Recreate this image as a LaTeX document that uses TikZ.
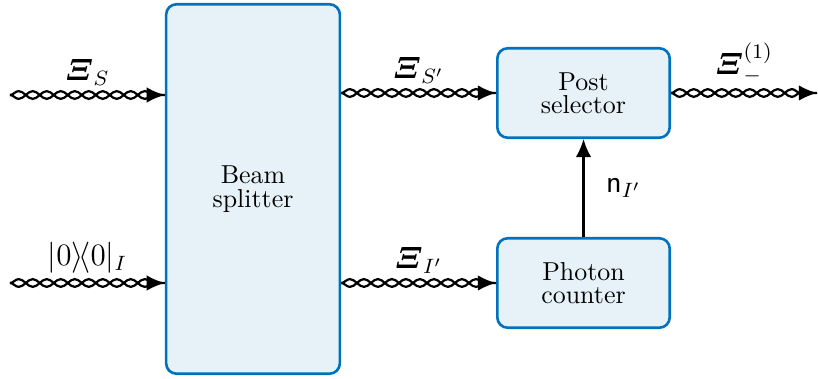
\documentclass[tikz,border=0pt]{standalone}
\usepackage{amsmath,amssymb}
\usetikzlibrary{arrows.meta,decorations.pathmorphing}
\definecolor{boxblue}{RGB}{0,114,189}
\definecolor{boxfill}{RGB}{230,241,248}
\newcommand{\Bxi}{\boldsymbol{\varXi}}
\tikzset{
  device/.style={draw=boxblue, fill=boxfill, line width=1pt, rounded corners=4pt,
    align=center, font={\fontsize{10}{9}\selectfont}},
  photon/.style={line width=0.85pt, decorate,
    decoration={snake, amplitude=1.5pt, segment length=10.8pt, post length=1pt}},
  antiphoton/.style={photon, decoration={mirror}},
  lbl/.style={font=\large},
  tip/.style={-{Latex[length=7pt,width=6pt]}}
}
\begin{document}
\begin{tikzpicture}[x=0.3857pt,y=-0.3857pt]
\useasboundingbox (0,0) rectangle (818,379);
% the three boxes
\node[device, minimum width=67pt, minimum height=142.5pt] (bs) at (253,189) {Beam\\splitter};
\node[device, minimum width=66.5pt, minimum height=34.5pt] (post) at (583.5,93) {Post\\selector};
\node[device, minimum width=66.5pt, minimum height=34.5pt] (count) at (583.5,283) {Photon\\counter};
\coordinate (inS) at (10,95);
\coordinate (inI) at (10,283);
\coordinate (out) at (817,93);
% inputs
\draw[photon,tip] (inS) -- node[lbl,above=0pt] (lS) {$\Bxi_S$} (inS -| bs.west);
\draw[antiphoton] (inS) -- (inS -| bs.west);
\draw[photon,tip] (inI) -- node[lbl,above=0pt] (lI) {$|0\rangle\!\langle 0|_I$} (inI -| bs.west);
\draw[antiphoton] (inI) -- (inI -| bs.west);
% between the boxes
\draw[photon,tip] (bs.east |- post.west) -- node[lbl,above=0pt] (lSp) {$\Bxi_{S'}$} (post.west);
\draw[antiphoton] (bs.east |- post.west) -- (post.west);
\draw[photon,tip] (bs.east |- count.west) -- node[lbl,above=0pt] (lIp) {$\Bxi_{I'}$} (count.west);
\draw[antiphoton] (bs.east |- count.west) -- (count.west);
% output
\draw[photon,tip] (post.east) -- node[lbl,above=0pt] (lout) {$\Bxi_-^{(1)}$} (out);
\draw[antiphoton] (post.east) -- (out);
\draw[line width=0.8pt,tip] (count.north) -- node[lbl,right=5pt] (ln) {$\mathsf{n}_{I'}$} (post.south);
\end{tikzpicture}
\end{document}
